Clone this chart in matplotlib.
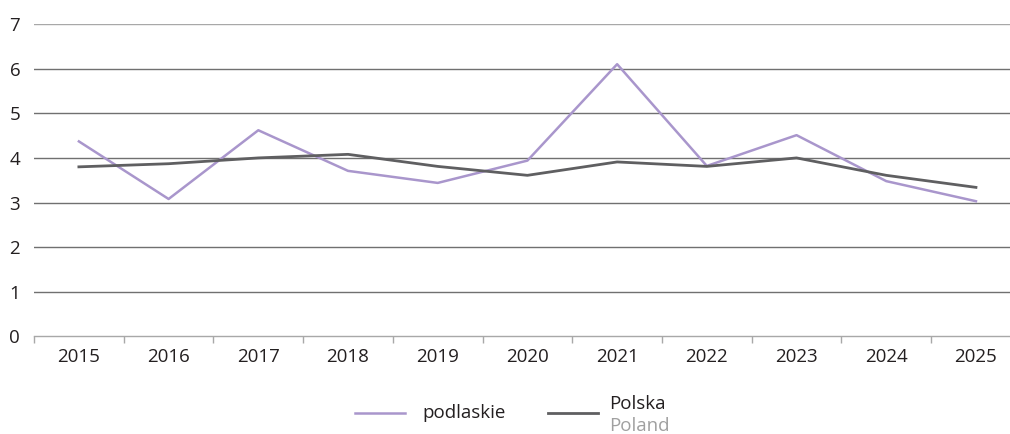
import matplotlib.pyplot as plt
from matplotlib.lines import Line2D

plt.rcParams['font.family'] = ['Open Sans', 'DejaVu Sans']

years = ['2015', '2016', '2017', '2018', '2019', '2020',
         '2021', '2022', '2023', '2024', '2025']
podlaskie = [4.37, 3.08, 4.62, 3.71, 3.44, 3.94, 6.10, 3.82, 4.51, 3.48, 3.03]
polska = [3.80, 3.87, 4.00, 4.08, 3.81, 3.61, 3.91, 3.81, 4.00, 3.61, 3.34]

purple = '#a996cc'
dark = '#5f5f61'

fig = plt.figure(figsize=(10.1, 4.34), dpi=100)
ax = fig.add_axes([0.0337, 0.2247, 0.977, 0.72])

x = range(len(years))
ax.plot(x, podlaskie, color=purple, lw=1.8, zorder=3)
ax.plot(x, polska, color=dark, lw=2.0, zorder=4)

ax.set_xlim(-0.5, len(years) - 0.5)
ax.set_ylim(0, 7)

# horizontal grid
for v in range(1, 7):
    ax.axhline(v, color='#707070', lw=1.0, zorder=1)
ax.axhline(7, color='#a8a8a8', lw=1.0, zorder=1)

for s in ['top', 'right', 'left']:
    ax.spines[s].set_visible(False)
ax.spines['bottom'].set_color('#a8a8a8')
ax.spines['bottom'].set_linewidth(1.0)

ax.set_yticks(range(0, 8))
ax.tick_params(axis='y', length=0, pad=10, labelsize=13.5, labelcolor='#231f20')
ax.set_xticks(list(x))
ax.set_xticklabels(years)
ax.set_xticks([i + 0.5 for i in range(-1, len(years))], minor=True)
ax.tick_params(axis='x', which='major', length=0, pad=8, labelsize=13.5,
               labelcolor='#231f20')
ax.tick_params(axis='x', which='minor', length=5, color='#a8a8a8', width=1.0)

# legend drawn by hand
fig.add_artist(Line2D([355 / 1010, 405 / 1010], [1 - 413 / 434, 1 - 413 / 434],
                      color=purple, lw=1.8, transform=fig.transFigure))
fig.text(422 / 1010, 1 - 413 / 434, 'podlaskie', fontsize=13.5,
         color='#231f20', va='center', ha='left')
fig.add_artist(Line2D([548 / 1010, 598 / 1010], [1 - 413 / 434, 1 - 413 / 434],
                      color=dark, lw=2.0, transform=fig.transFigure))
fig.text(609 / 1010, 1 - 404 / 434, 'Polska', fontsize=13.5,
         color='#231f20', va='center', ha='left')
fig.text(609 / 1010, 1 - 426 / 434, 'Poland', fontsize=13.5,
         color='#a0a0a0', va='center', ha='left')

fig.savefig('out.png', dpi=100)
